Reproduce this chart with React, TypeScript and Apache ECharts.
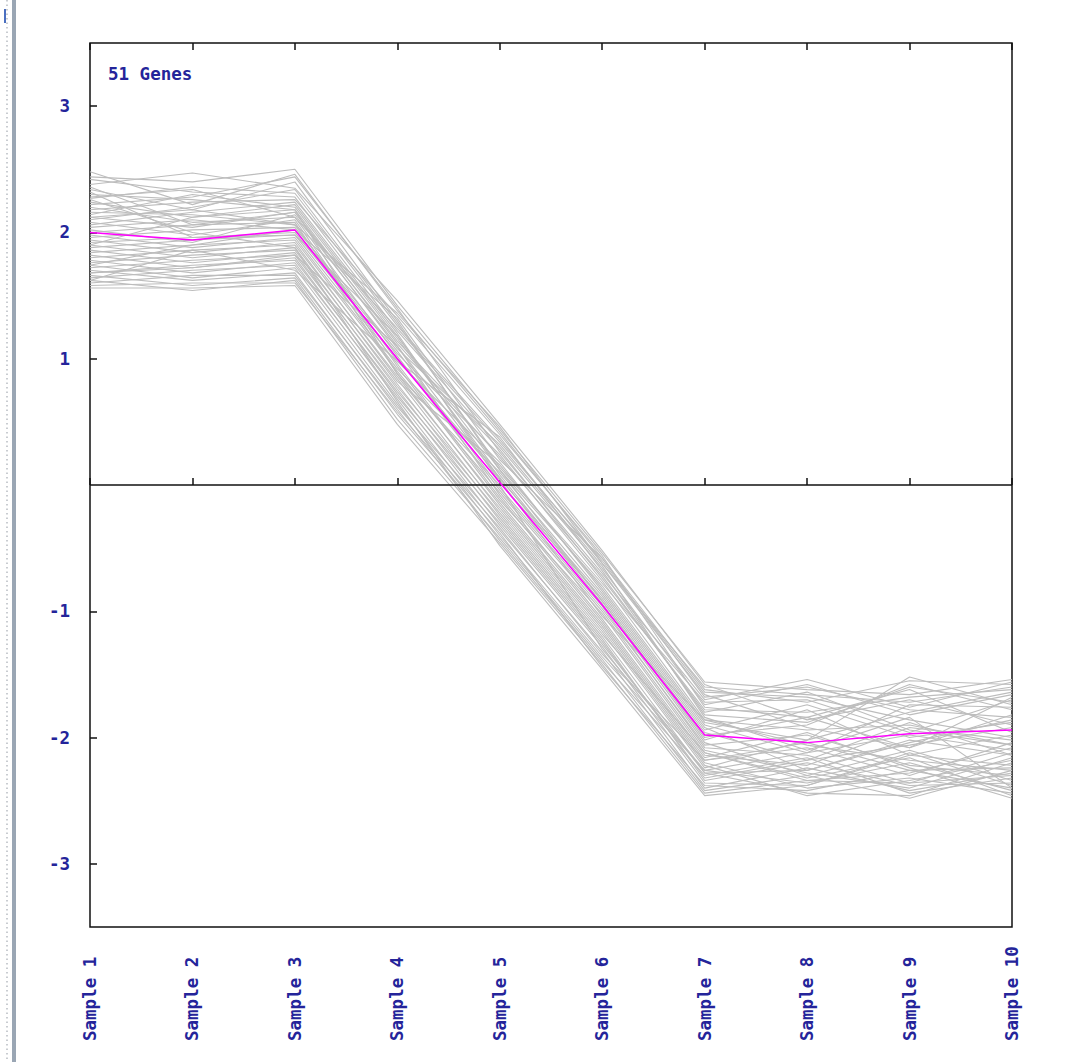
import React, { useEffect, useRef } from "react";
import * as echarts from "echarts";

const samples = ["Sample 1", "Sample 2", "Sample 3", "Sample 4", "Sample 5", "Sample 6", "Sample 7", "Sample 8", "Sample 9", "Sample 10"];
const yTickValues = [-3, -2, -1, 1, 2, 3];
const geneCountLabel = "51 Genes";

const genes: number[][] = [
  [2.48, 2.22, 2.46, 1.38, 0.42, -0.58, -1.62, -1.72, -1.55, -1.58],
  [2.42, 2.32, 2.28, 1.22, 0.30, -0.66, -1.74, -1.58, -1.82, -1.66],
  [2.38, 2.47, 2.35, 1.46, 0.48, -0.52, -1.58, -1.86, -1.70, -1.90],
  [2.34, 2.18, 2.40, 1.30, 0.12, -0.80, -1.88, -2.02, -1.52, -1.74],
  [2.30, 2.26, 2.18, 1.12, 0.22, -0.72, -1.80, -1.64, -1.94, -2.06],
  [2.27, 2.36, 2.31, 1.26, 0.36, -0.62, -1.66, -1.92, -2.08, -1.82],
  [2.24, 2.12, 2.22, 1.18, 0.05, -0.88, -1.96, -2.18, -1.88, -2.14],
  [2.22, 2.28, 2.44, 1.40, 0.26, -0.70, -1.70, -1.54, -1.76, -1.56],
  [2.20, 2.08, 2.12, 1.02, -0.04, -0.98, -2.06, -1.98, -2.22, -2.30],
  [2.18, 2.24, 2.26, 1.34, 0.40, -0.56, -1.76, -1.84, -1.62, -1.96],
  [2.16, 2.14, 2.06, 0.98, 0.18, -0.84, -1.92, -2.26, -2.04, -1.86],
  [2.14, 2.30, 2.20, 1.16, 0.08, -0.92, -2.02, -1.78, -2.14, -2.22],
  [2.12, 2.04, 2.16, 1.08, 0.32, -0.64, -1.84, -2.10, -1.84, -2.40],
  [2.10, 2.20, 2.34, 1.28, 0.14, -0.78, -1.72, -1.70, -1.96, -1.70],
  [2.08, 1.98, 2.10, 0.94, -0.12, -1.02, -2.12, -2.34, -2.28, -2.08],
  [2.06, 2.16, 2.24, 1.20, 0.02, -0.90, -1.98, -1.90, -1.58, -1.78],
  [2.04, 2.10, 2.02, 1.04, 0.24, -0.76, -1.86, -2.06, -2.18, -2.26],
  [2.02, 1.92, 2.14, 1.10, -0.08, -1.06, -2.14, -2.22, -1.92, -2.02],
  [2.00, 2.06, 2.08, 0.88, -0.16, -1.12, -2.20, -2.40, -2.32, -2.44],
  [1.98, 1.88, 1.96, 0.92, 0.10, -0.86, -1.94, -1.74, -2.00, -1.88],
  [1.96, 2.02, 2.04, 1.06, -0.02, -0.96, -2.08, -2.14, -2.36, -2.12],
  [1.94, 1.84, 1.92, 0.84, -0.20, -1.16, -2.24, -2.02, -1.80, -1.64],
  [1.92, 1.96, 2.00, 1.00, 0.06, -0.94, -2.04, -2.30, -2.10, -2.34],
  [1.90, 1.80, 1.88, 0.80, -0.24, -1.20, -2.28, -2.44, -2.46, -2.20],
  [1.88, 1.94, 1.98, 0.96, -0.10, -1.08, -2.16, -1.96, -2.24, -2.48],
  [1.86, 1.76, 1.84, 0.76, -0.28, -1.24, -2.32, -2.18, -2.06, -1.92],
  [1.84, 1.90, 1.94, 0.90, -0.06, -1.00, -2.10, -2.28, -2.40, -2.16],
  [1.82, 1.72, 1.80, 0.72, -0.32, -1.28, -2.36, -2.38, -2.12, -2.38],
  [1.80, 1.86, 1.90, 0.86, -0.14, -1.10, -2.18, -2.08, -2.30, -2.04],
  [1.78, 1.68, 1.76, 0.68, -0.36, -1.32, -2.40, -2.24, -2.42, -2.28],
  [1.76, 1.82, 1.86, 0.82, 0.16, -0.82, -1.90, -2.12, -1.98, -2.10],
  [1.74, 1.64, 1.72, 0.64, -0.40, -1.36, -2.26, -2.36, -2.20, -2.42],
  [1.72, 1.78, 1.82, 0.78, -0.18, -1.14, -2.22, -2.46, -2.34, -2.18],
  [1.70, 1.62, 1.68, 0.60, -0.44, -1.40, -2.30, -2.16, -2.44, -2.32],
  [1.68, 1.74, 1.78, 0.74, -0.22, -1.18, -2.12, -2.32, -2.16, -2.46],
  [1.66, 1.58, 1.64, 0.56, -0.38, -1.44, -2.38, -2.42, -2.26, -2.24],
  [1.64, 1.70, 1.74, 0.70, -0.26, -1.22, -2.34, -2.20, -2.38, -2.36],
  [1.62, 1.54, 1.62, 0.52, -0.42, -1.38, -2.42, -2.30, -2.48, -2.26],
  [1.60, 1.66, 1.66, 0.62, -0.30, -1.26, -2.28, -2.26, -2.02, -2.14],
  [1.58, 1.60, 1.60, 0.58, -0.34, -1.34, -2.18, -2.04, -2.26, -2.40],
  [1.56, 1.56, 1.58, 0.48, -0.46, -1.42, -2.44, -2.34, -2.36, -2.30],
  [2.44, 2.40, 2.50, 1.42, 0.44, -0.54, -1.56, -1.62, -1.66, -1.54],
  [2.36, 2.06, 2.16, 1.14, 0.28, -0.74, -1.78, -1.80, -1.68, -1.62],
  [2.28, 2.34, 2.12, 1.24, 0.34, -0.60, -1.64, -1.68, -1.86, -2.00],
  [1.62, 1.86, 1.70, 0.98, 0.38, -0.68, -1.82, -1.88, -1.60, -1.72],
  [1.74, 1.90, 2.02, 1.32, 0.20, -0.58, -1.68, -1.60, -1.78, -1.84],
  [2.26, 2.00, 1.88, 0.66, -0.48, -1.46, -2.46, -2.38, -2.14, -1.98],
  [1.68, 1.72, 1.82, 1.10, 0.04, -1.04, -1.86, -1.94, -1.90, -2.06],
  [2.12, 2.18, 2.06, 1.36, 0.46, -0.62, -1.60, -1.66, -1.72, -1.60],
  [1.90, 2.12, 2.18, 0.88, 0.00, -1.30, -2.26, -2.12, -1.74, -1.76],
  [2.32, 1.96, 1.98, 1.18, 0.12, -0.92, -2.00, -1.84, -2.08, -1.68],
];

const meanProfile = [2.0, 1.94, 2.02, 1.0, 0.02, -0.95, -1.98, -2.04, -1.97, -1.94];

const TEXT_COLOR = "#24249a";
const FONT = "DejaVu Sans Mono";
const FONT_SIZE = 17.5;

export default function App() {
  const ref = useRef<HTMLDivElement>(null);
  useEffect(() => {
    if (!ref.current) return;
    const chart = echarts.init(ref.current, null, { renderer: "svg" });
    const grayLines = genes.map((g, i) => ({
      name: "gene" + (i + 1),
      type: "line",
      data: g,
      symbol: "none",
      silent: true,
      z: 2,
      lineStyle: { color: "#bdbdbd", width: 1.1 },
    }));
    const option: any = {
      animation: false,
      backgroundColor: "#ffffff",
      grid: {
        left: 90,
        right: 60,
        top: 43,
        bottom: 135,
        show: true,
        borderColor: "#111111",
        borderWidth: 1.5,
        backgroundColor: "transparent",
      },
      xAxis: [
        {
          type: "category",
          data: samples,
          boundaryGap: false,
          position: "bottom",
          axisLine: { show: false },
          axisTick: { show: true, inside: true, length: 7, lineStyle: { color: "#111", width: 1.5 } },
          axisLabel: {
            rotate: 90,
            margin: 114,
            align: "left",
            color: TEXT_COLOR,
            fontFamily: FONT,
            fontWeight: "bold",
            fontSize: FONT_SIZE,
          },
          splitLine: { show: false },
        },
        {
          type: "category",
          data: samples,
          boundaryGap: false,
          position: "top",
          axisLine: { show: false },
          axisTick: { show: true, inside: true, length: 7, lineStyle: { color: "#111", width: 1.5 } },
          axisLabel: { show: false },
          splitLine: { show: false },
        },
      ],
      yAxis: {
        type: "value",
        min: -3.5,
        max: 3.5,
        axisLine: { show: false },
        axisTick: {
          show: true,
          inside: true,
          length: 7,
          customValues: yTickValues,
          lineStyle: { color: "#111", width: 1.5 },
        },
        axisLabel: {
          customValues: yTickValues,
          margin: 20,
          color: TEXT_COLOR,
          fontFamily: FONT,
          fontWeight: "bold",
          fontSize: FONT_SIZE,
          padding: [4, 0, 0, 0],
        },
        splitLine: { show: false },
      },
      graphic: [
        {
          type: "text",
          left: 108,
          top: 65,
          style: {
            text: geneCountLabel,
            fill: TEXT_COLOR,
            font: `bold ${FONT_SIZE}px "${FONT}"`,
          },
        },
        {
          type: "rect",
          shape: { x: 12, y: 0, width: 4, height: 1062 },
          style: { fill: "#9aa6b4" },
        },
        {
          type: "line",
          shape: { x1: 7, y1: 0, x2: 7, y2: 1062 },
          style: { stroke: "#b8bcc2", lineWidth: 1.5, lineDash: [1.5, 3] },
        },
        {
          type: "rect",
          shape: { x: 4, y: 9, width: 2, height: 14 },
          style: { fill: "#4a6fc0" },
        },
      ],
      series: [
        ...grayLines,
        {
          name: "mean",
          type: "line",
          data: meanProfile,
          symbol: "none",
          silent: true,
          z: 5,
          lineStyle: { color: "#ff00ff", width: 1.5 },
          markLine: {
            silent: true,
            symbol: "none",
            label: { show: false },
            lineStyle: { color: "#111111", width: 1.5, type: "solid" },
            data: [{ yAxis: 0 }],
          },
        },
      ],
    };
    chart.setOption(option);
    return () => chart.dispose();
  }, []);
  return (
    <div
      ref={ref}
      style={{ position: "absolute", left: 0, top: 0, width: 1072, height: 1062, background: "#fff" }}
    />
  );
}
